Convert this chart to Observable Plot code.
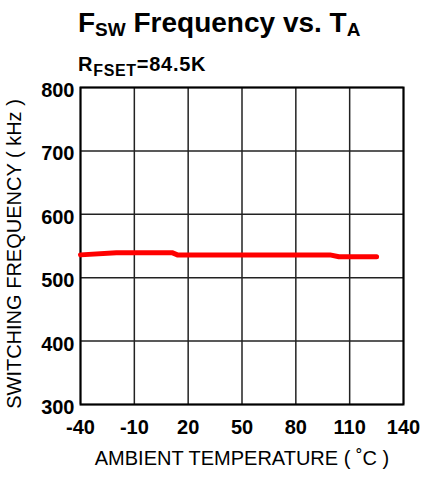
<!DOCTYPE html>
<html>
<head>
<meta charset="utf-8">
<script src="https://cdn.jsdelivr.net/npm/d3@7"></script>
<script src="https://cdn.jsdelivr.net/npm/@observablehq/plot@0.6"></script>
<style>
  html, body { margin: 0; padding: 0; background: #fff; }
  #wrap { position: relative; width: 433px; height: 479px; font-family: "Liberation Sans", Arial, sans-serif; }
  #title { position: absolute; left: 78px; top: 9px; font-size: 28px; font-weight: bold; white-space: nowrap; line-height: 1; color: #000; }
  #subtitle { position: absolute; left: 78px; top: 54px; font-size: 20px; font-weight: bold; white-space: nowrap; line-height: 1; color: #000; letter-spacing: 0.7px; }
  .sub1 { font-size: 19px; position: relative; top: 4px; }
  .sub2 { font-size: 16px; position: relative; top: 5px; }
  #chart { position: absolute; left: 0; top: 0; }
</style>
</head>
<body>
<div id="wrap">
  <div id="chart"></div>
  <div id="title">F<span class="sub1">SW</span> Frequency vs. T<span class="sub1">A</span></div>
  <div id="subtitle">R<span class="sub2">FSET</span>=84.5K</div>
</div>
<script>
const temperature = [-40, -20, 11, 14, 99, 104, 125];
const frequency = [536, 539.5, 539.5, 536, 536, 533, 533];
const xTicks = [-40, -10, 20, 50, 80, 110, 140];
const yTicks = [300, 400, 500, 600, 700, 800];
const xLabel = "AMBIENT TEMPERATURE ( ˚C )";
const yLabel = "SWITCHING FREQUENCY ( kHz )";

const data = temperature.map((t, i) => ({t, f: frequency[i]}));

const chart = Plot.plot({
  width: 433,
  height: 479,
  marginLeft: 80,
  marginRight: 30,
  marginTop: 87,
  marginBottom: 75,
  style: {fontFamily: '"Liberation Sans", Arial, sans-serif', fontSize: "18px", color: "#000", background: "#fff"},
  x: {domain: [-40, 140], ticks: xTicks},
  y: {domain: [300, 800], ticks: yTicks},
  marks: [
    Plot.gridX(xTicks, {stroke: "#222", strokeOpacity: 1, strokeWidth: 1.5}),
    Plot.gridY(yTicks, {stroke: "#222", strokeOpacity: 1, strokeWidth: 1.5}),
    Plot.frame({stroke: "#000", strokeWidth: 2}),
    Plot.line(data, {x: "t", y: "f", stroke: "#ff0000", strokeWidth: 5, curve: "linear", strokeLinejoin: "round"}),
    Plot.axisX(xTicks, {tickSize: 0, tickPadding: 15, fontWeight: "bold", fontSize: 20, label: null, tickFormat: d => String(d)}),
    Plot.axisY(yTicks, {tickSize: 0, tickPadding: 6, fontWeight: "bold", fontSize: 20, dy: 3, label: null, tickFormat: d => String(d)}),
    Plot.text([xLabel], {frameAnchor: "bottom", dy: 60, fontSize: 20, fill: "#000"}),
    Plot.text([yLabel], {frameAnchor: "left", textAnchor: "middle", rotate: -90, dx: -66, dy: 8, fontSize: 20, fill: "#000"})
  ]
});
document.getElementById("chart").appendChild(chart);
</script>
</body>
</html>
